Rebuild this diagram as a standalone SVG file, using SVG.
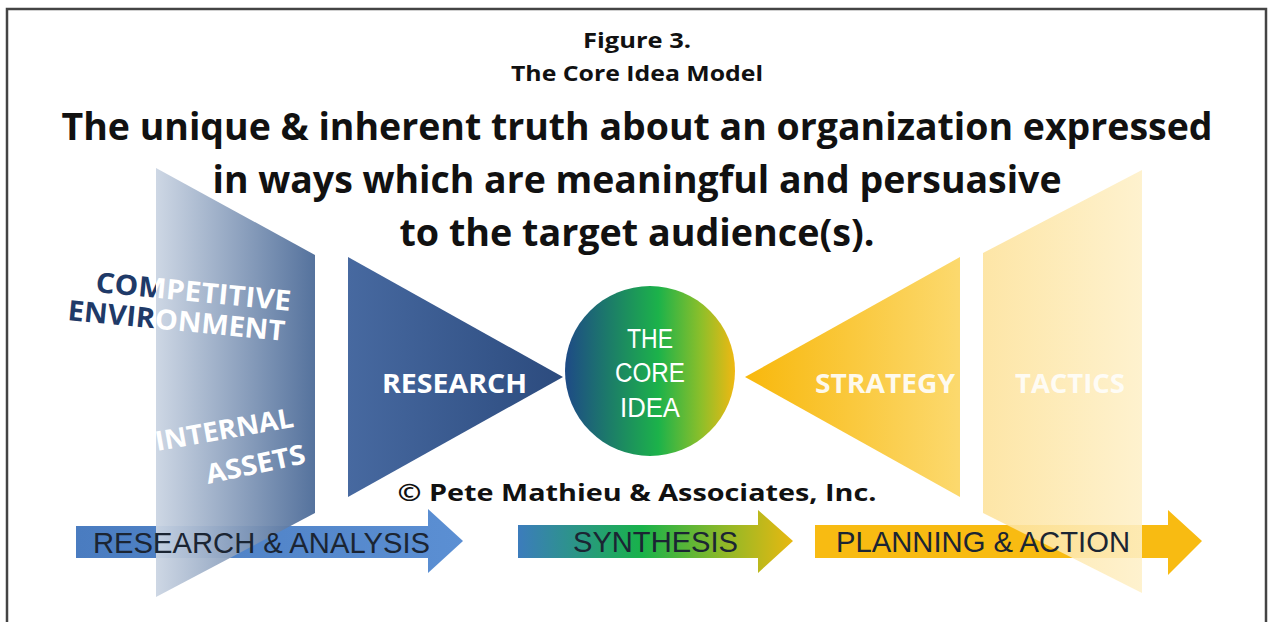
<svg xmlns="http://www.w3.org/2000/svg" width="1268" height="622" viewBox="0 0 1268 622">
<defs>
<style>
.ttl{font-family:"Open Sans","Liberation Sans",sans-serif;font-weight:bold;fill:#111;text-anchor:middle}
.lbl{font-family:"Open Sans","Liberation Sans",sans-serif;font-weight:bold;fill:#fff}
.arr{font-family:"Liberation Sans",Arial,sans-serif;fill:#1b2533;font-size:29px}
.core{font-family:"Liberation Sans",Arial,sans-serif;fill:#fff;font-size:27px;text-anchor:middle}
</style>
<linearGradient id="gLeft" x1="0" y1="0" x2="1" y2="0">
<stop offset="0" stop-color="#cbd5e3"/><stop offset="1" stop-color="#4c6b98"/>
</linearGradient>
<linearGradient id="gRes" x1="0" y1="0" x2="1" y2="0">
<stop offset="0" stop-color="#4769a0"/><stop offset="1" stop-color="#2c4b7e"/>
</linearGradient>
<linearGradient id="gCore" x1="0" y1="0" x2="1" y2="0">
<stop offset="0" stop-color="#1e4a86"/><stop offset="0.25" stop-color="#1c7a6a"/><stop offset="0.55" stop-color="#1cb24a"/><stop offset="0.8" stop-color="#8cbf2a"/><stop offset="1" stop-color="#f0b812"/>
</linearGradient>
<linearGradient id="gStr" x1="0" y1="0" x2="1" y2="0">
<stop offset="0" stop-color="#f8b80c"/><stop offset="1" stop-color="#fcd96e"/>
</linearGradient>
<linearGradient id="gTac" x1="0" y1="0" x2="1" y2="0">
<stop offset="0" stop-color="#fde29a"/><stop offset="1" stop-color="#fef0c8"/>
</linearGradient>
<linearGradient id="gA1" x1="0" y1="0" x2="1" y2="0">
<stop offset="0" stop-color="#4a7cc0"/><stop offset="1" stop-color="#5b8fd3"/>
</linearGradient>
<linearGradient id="gA2" x1="518" y1="0" x2="793" y2="0" gradientUnits="userSpaceOnUse">
<stop offset="0" stop-color="#3c7cbc"/><stop offset="0.45" stop-color="#18b24a"/><stop offset="0.75" stop-color="#8fb828"/><stop offset="1" stop-color="#e8b810"/>
</linearGradient>
<clipPath id="cLeft"><polygon points="156,168 315,255 315,513 156,597"/></clipPath>
</defs>
<rect width="1268" height="622" fill="#fff"/>
<path d="M7,622 V9 H1266 V622" fill="none" stroke="#444" stroke-width="2.5"/>

<g id="heading">
<text class="ttl" x="637" y="48" font-size="22" textLength="108" lengthAdjust="spacingAndGlyphs">Figure 3.</text>
<text class="ttl" x="637" y="81" font-size="22" textLength="252" lengthAdjust="spacingAndGlyphs">The Core Idea Model</text>
</g>
<g id="definition">
<text class="ttl" x="637" y="140" font-size="37" textLength="1151" lengthAdjust="spacingAndGlyphs">The unique &amp; inherent truth about an organization expressed</text>
<text class="ttl" x="637" y="193" font-size="37" textLength="849" lengthAdjust="spacingAndGlyphs">in ways which are meaningful and persuasive</text>
<text class="ttl" x="637" y="246" font-size="37" textLength="475" lengthAdjust="spacingAndGlyphs">to the target audience(s).</text>
</g>

<g id="connectors">
<g id="arrow-research-analysis">
<polygon points="76,526 428,526 428,509 463,541 428,573 428,558 76,558" fill="url(#gA1)"/>
</g>
<g id="arrow-synthesis">
<polygon points="518,525 758,525 758,510 793,541 758,573 758,558 518,558" fill="url(#gA2)"/>
</g>
<g id="arrow-planning-action">
<polygon points="815,525 1168,525 1168,510 1202,541 1168,575 1168,558 815,558" fill="#f8bb12"/>
</g>
</g>

<g id="node-environment">
<text class="lbl" style="fill:#1f3a68" font-size="28" transform="translate(95,292) rotate(5.5)" textLength="196" lengthAdjust="spacingAndGlyphs">COMPETITIVE</text>
<text class="lbl" style="fill:#1f3a68" font-size="28" transform="translate(67,320) rotate(5.5)" textLength="218" lengthAdjust="spacingAndGlyphs">ENVIRONMENT</text>
<polygon points="156,168 315,255 315,513 156,597" fill="url(#gLeft)" opacity="0.95"/>
<g clip-path="url(#cLeft)">
<text class="lbl" font-size="28" transform="translate(95,292) rotate(5.5)" textLength="196" lengthAdjust="spacingAndGlyphs">COMPETITIVE</text>
<text class="lbl" font-size="28" transform="translate(67,320) rotate(5.5)" textLength="218" lengthAdjust="spacingAndGlyphs">ENVIRONMENT</text>
</g>
<text class="lbl" font-size="27" transform="translate(157,451) rotate(-10)" textLength="140" lengthAdjust="spacingAndGlyphs">INTERNAL</text>
<text class="lbl" font-size="27" transform="translate(208,484) rotate(-12)" textLength="101" lengthAdjust="spacingAndGlyphs">ASSETS</text>
</g>

<g id="node-research">
<polygon points="348,257 563,377 348,497" fill="url(#gRes)"/>
<text class="lbl" x="382" y="393" font-size="27" textLength="145" lengthAdjust="spacingAndGlyphs">RESEARCH</text>
</g>

<g id="node-core-idea">
<circle cx="650" cy="371" r="85" fill="url(#gCore)"/>
<text class="core" x="650" y="348" textLength="46" lengthAdjust="spacingAndGlyphs">THE</text>
<text class="core" x="650" y="382" textLength="70" lengthAdjust="spacingAndGlyphs">CORE</text>
<text class="core" x="650" y="417" textLength="60" lengthAdjust="spacingAndGlyphs">IDEA</text>
</g>

<g id="node-strategy">
<polygon points="745,377 960,257 960,497" fill="url(#gStr)"/>
<text class="lbl" x="815" y="393" font-size="27" textLength="140" lengthAdjust="spacingAndGlyphs" opacity="0.9">STRATEGY</text>
</g>

<g id="node-tactics">
<polygon points="983,253 1142,170 1142,593 983,513" fill="url(#gTac)" opacity="0.88"/>
<text class="lbl" x="1015" y="393" font-size="27" textLength="110" lengthAdjust="spacingAndGlyphs" opacity="0.85">TACTICS</text>
</g>

<g id="arrow-labels">
<text class="arr" x="93" y="553" textLength="337" lengthAdjust="spacingAndGlyphs">RESEARCH &amp; ANALYSIS</text>
<text class="arr" x="573" y="552" textLength="165" lengthAdjust="spacingAndGlyphs">SYNTHESIS</text>
<text class="arr" x="836" y="552" textLength="294" lengthAdjust="spacingAndGlyphs">PLANNING &amp; ACTION</text>
</g>

<g id="copyright">
<text class="ttl" x="637" y="501" font-size="24" textLength="479" lengthAdjust="spacingAndGlyphs">© Pete Mathieu &amp; Associates, Inc.</text>
</g>
</svg>
